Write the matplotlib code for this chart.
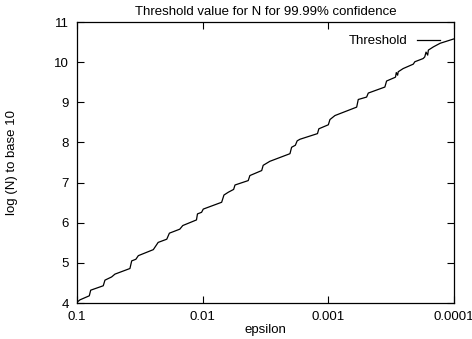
#!/usr/bin/env python3

"""threshold value for N at 99.99% confidence, gnuplot style"""

import matplotlib
matplotlib.use('Agg')
import matplotlib.pyplot as plt
import matplotlib.ticker as ticker

plt.rcParams['font.family'] = ['Liberation Sans', 'DejaVu Sans']

# epsilon values (x) and log10(N) values (y)
epsilon = [0.1, 0.0946, 0.0798, 0.0778, 0.0618, 0.0599, 0.0530, 0.0499,
           0.0379, 0.0367, 0.0340, 0.0325, 0.0247, 0.0226, 0.0193, 0.0184,
           0.0152, 0.0144, 0.0112, 0.0110, 0.0102, 0.00989, 0.00706, 0.00677,
           0.00625, 0.00567, 0.00553, 0.00434, 0.00421, 0.00339, 0.00330,
           0.00292, 0.00202, 0.00196, 0.00183, 0.00177, 0.00168, 0.00122,
           0.00119, 0.00100, 0.000971, 0.000886, 0.000595, 0.000578,
           0.000496, 0.000481, 0.000355, 0.000344, 0.000295, 0.000292,
           0.000288, 0.000281, 0.000278, 0.000254, 0.000211, 0.000205,
           0.000176, 0.000171, 0.000167, 0.000162, 0.000160, 0.000146,
           0.000129, 0.0001]
log_n = [4.02, 4.08, 4.18, 4.32, 4.43, 4.57, 4.65, 4.72,
         4.86, 5.05, 5.09, 5.18, 5.33, 5.51, 5.59, 5.74,
         5.84, 5.93, 6.07, 6.22, 6.26, 6.34, 6.51, 6.69,
         6.76, 6.83, 6.94, 7.05, 7.175, 7.30, 7.43,
         7.53, 7.72, 7.88, 7.93, 8.04, 8.08, 8.22,
         8.34, 8.44, 8.57, 8.67, 8.88, 9.07,
         9.13, 9.23, 9.38, 9.53, 9.62, 9.63,
         9.74, 9.675, 9.76, 9.84, 9.95, 10.01,
         10.09, 10.13, 10.25, 10.175, 10.30, 10.38,
         10.47, 10.58]

x_ticks = [0.1, 0.01, 0.001, 0.0001]
x_ticklabels = ['0.1', '0.01', '0.001', '0.0001']
y_ticks = [4, 5, 6, 7, 8, 9, 10, 11]

fig = plt.figure(figsize=(4.72, 3.39), dpi=100)
ax = fig.add_axes([0.1631, 0.1061, 0.7988, 0.8290])

ax.plot(epsilon, log_n, color='black', linewidth=0.9, label='Threshold')

ax.set_xscale('log')
ax.set_xlim(0.1, 0.0001)
ax.set_ylim(4, 11)
ax.set_xticks(x_ticks)
ax.set_xticklabels(x_ticklabels)
ax.xaxis.set_minor_locator(ticker.NullLocator())
ax.set_yticks(y_ticks)

ax.tick_params(direction='in', length=5, width=0.8, labelsize=9.5,
               top=True, right=True, pad=6, colors='black')
for sp in ax.spines.values():
    sp.set_linewidth(0.9)

ax.set_title('Threshold value for N for 99.99% confidence', fontsize=9.5, pad=5)
ax.set_xlabel('epsilon', fontsize=9.5)
ax.xaxis.set_label_coords(0.5, -0.075)
ax.set_ylabel('log (N) to base 10', fontsize=9.5)
ax.yaxis.set_label_coords(-0.157, 0.5)

ax.legend(loc='center right', bbox_to_anchor=(0.963, 0.932), frameon=False,
          markerfirst=False, fontsize=9.5, handlelength=1.75, handletextpad=0.7,
          borderpad=0, borderaxespad=0)

plt.savefig('out.png', dpi=100)
